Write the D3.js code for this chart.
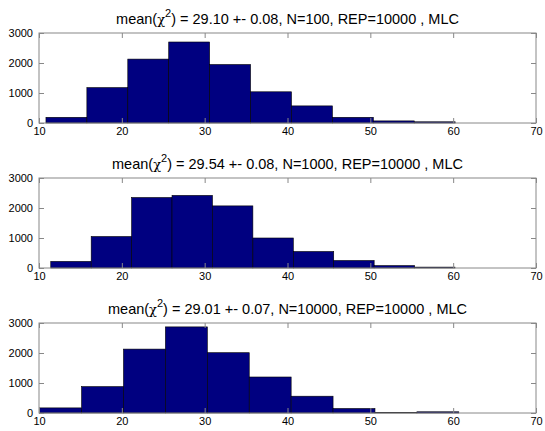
<!DOCTYPE html>
<html>
<head>
<meta charset="utf-8">
<script src="https://cdn.jsdelivr.net/npm/d3@7"></script>
<style>
  body { margin: 0; background: #fff; }
  svg { display: block; font-family: "Liberation Sans", Arial, sans-serif; }
</style>
</head>
<body>
<svg id="chart"></svg>
<script>
const width = 545
const height = 431

// title bits per panel
const meanVals = ["29.10 +- 0.08", "29.54 +- 0.08", "29.01 +- 0.07"]
const nVals = ["100", "1000", "10000"]

// bin edges (hist with 10 bins)
const edges100 = [10.84, 15.78, 20.72, 25.66, 30.60, 35.54, 40.48, 45.42, 50.36, 55.30, 60.24]
const edges1000 = [11.42, 16.30, 21.18, 26.06, 30.94, 35.82, 40.70, 45.58, 50.46, 55.34, 60.22]
const edges10000 = [10.08, 15.14, 20.20, 25.26, 30.32, 35.38, 40.44, 45.50, 50.56, 55.62, 60.68]

// counts per bin
const counts100 = [190, 1180, 2130, 2700, 1950, 1040, 570, 190, 70, 40]
const counts1000 = [220, 1050, 2350, 2420, 2070, 1000, 550, 250, 80, 30]
const counts10000 = [170, 880, 2130, 2870, 2010, 1200, 560, 150, 20, 40]

const xTicks = [10, 20, 30, 40, 50, 60, 70]
const yTicks = [0, 1000, 2000, 3000]

const panels = [
  { edges: edges100, counts: counts100, mean: meanVals[0], n: nVals[0] },
  { edges: edges1000, counts: counts1000, mean: meanVals[1], n: nVals[1] },
  { edges: edges10000, counts: counts10000, mean: meanVals[2], n: nVals[2] }
]

const left = 39, right = 536
const plotH = 90
const tops = [33, 178, 323]

const svg = d3.select("#chart")
  .attr("width", width)
  .attr("height", height)

const x = d3.scaleLinear().domain([10, 70]).range([left, right])

panels.forEach((p, i) => {
  const top = tops[i]
  const y = d3.scaleLinear().domain([0, 3000]).range([top + plotH, top])
  const g = svg.append("g")

  // bars
  const bins = p.counts.map((c, j) => ({ x0: p.edges[j], x1: p.edges[j + 1], c }))
  g.append("g")
    .selectAll("rect")
    .data(bins)
    .join("rect")
    .attr("x", d => x(d.x0))
    .attr("width", d => x(d.x1) - x(d.x0))
    .attr("y", d => y(d.c))
    .attr("height", d => y(0) - y(d.c))
    .attr("fill", "#000080")
    .attr("stroke", "#000")
    .attr("stroke-width", 0.6)

  // axes, ticks pointing inward like matlab
  const styleAxis = sel => {
    sel.select(".domain").remove()
    sel.selectAll(".tick line").attr("stroke", "#888")
    sel.selectAll("text").attr("fill", "#000").style("font-size", "11px")
      .style("font-family", "'Liberation Sans', Arial, sans-serif")
  }

  g.append("g")
    .attr("transform", `translate(0,${top + plotH})`)
    .call(d3.axisBottom(x).tickValues(xTicks).tickSizeInner(-5).tickSizeOuter(0).tickPadding(4))
    .call(styleAxis)

  g.append("g")
    .attr("transform", `translate(0,${top})`)
    .call(d3.axisTop(x).tickValues(xTicks).tickSizeInner(-5).tickSizeOuter(0).tickFormat(""))
    .call(styleAxis)

  g.append("g")
    .attr("transform", `translate(${left},0)`)
    .call(d3.axisLeft(y).tickValues(yTicks).tickFormat(d3.format("d")).tickSizeInner(-5).tickSizeOuter(0).tickPadding(6))
    .call(styleAxis)

  g.append("g")
    .attr("transform", `translate(${right},0)`)
    .call(d3.axisRight(y).tickValues(yTicks).tickSizeInner(-5).tickSizeOuter(0).tickFormat(""))
    .call(styleAxis)

  // box
  g.append("rect")
    .attr("x", left)
    .attr("y", top)
    .attr("width", right - left)
    .attr("height", plotH)
    .attr("fill", "none")
    .attr("stroke", "#888")
    .attr("stroke-width", 1)

  // title
  const t = g.append("text")
    .attr("x", (left + right) / 2)
    .attr("y", top - 9)
    .attr("text-anchor", "middle")
    .style("font-size", "14.5px")
    .attr("fill", "#000")
  t.append("tspan").text("mean(")
  t.append("tspan").text("χ").style("font-family", "'DejaVu Serif', serif").style("font-size", "13px")
  t.append("tspan").text("2").attr("dy", -7).style("font-size", "11px")
  t.append("tspan").text(`) = ${p.mean}, N=${p.n}, REP=10000 , MLC`).attr("dy", 7)
})
</script>
</body>
</html>
